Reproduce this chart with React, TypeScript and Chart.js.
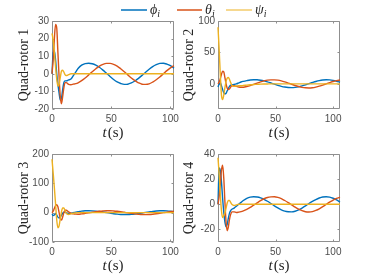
import React, { useEffect, useRef } from 'react';
import { Chart, registerables } from 'chart.js';
Chart.register(...registerables);

const W = 374;
const H = 280;

// time samples (s)
const TIME = [0, 1, 2, 3, 4, 5, 6, 7, 8, 9, 10, 11, 12, 14, 16, 18, 20, 22, 25, 28, 31, 34, 37, 40, 43, 46, 49, 52, 55, 58, 61, 64, 67, 70, 73, 76, 79, 82, 85, 88, 91, 94, 97, 100, 103, 106];
const X_TICKS = [0, 50, 100];

// Quad-rotor 1
const PHI_1 = [0, 12, 13, 8, 0, -6, -11, -15, -14, -9, -5, -4, -4, -3.5, -3, -1, 1, 3,
  4.9, 5.8, 6.0, 5.7, 4.9, 3.7, 2.1, 0.3, -1.5, -3.2, -4.6, -5.5, -6.0, -5.9, -5.2, -4.1, -2.6, -0.9, 0.9, 2.6, 4.1, 5.2, 5.9, 6.0, 5.5, 4.6, 3.2, 1.5];
const THETA_1 = [0, 8, 20, 28, 26, 12, -2, -13, -17, -13, -8, -5, -5, -6, -6.2, -5.9, -5.6, -5.1,
  -3.9, -2.4, -0.6, 1.2, 2.9, 4.4, 5.4, 5.9, 5.9, 5.4, 4.4, 2.9, 1.2, -0.6, -2.4, -3.9, -5.1, -5.9, -6.0, -5.7, -4.7, -3.4, -1.8, 0.0, 1.8, 3.4, 4.7, 5.6];
const PSI_1 = [23, 19, 12, 4, -3, -7, -6, -2, 1.5, 2, 1, -0.5, -1, -0.5, 0, 0, 0, 0,
  0, 0, 0, 0, 0, 0, 0, 0, 0, 0, 0, 0, 0, 0, 0, 0, 0, 0, 0, 0, 0, 0, 0, 0, 0, 0, 0, 0];

// Quad-rotor 2
const PHI_2 = [-5, 0, 2, -3, -9, -14, -16, -15, -11, -7, -4, -2, -1.5, -1, 0, 1.5, 3, 4,
  5.2, 6.2, 6.6, 6.5, 5.8, 4.7, 3.2, 1.4, -0.5, -2.3, -3.9, -5.1, -5.8, -6.0, -5.6, -4.7, -3.3, -1.6, 0.3, 2.1, 3.8, 5.2, 6.1, 6.5, 6.3, 5.5, 4.2, 2.6];
const THETA_2 = [0, 3, 8, 15, 20, 19, 10, 0, -7, -9, -8, -5, -3, -3, -4, -5, -5.5, -5.3,
  -4.2, -2.7, -0.8, 1.2, 3.1, 4.7, 5.9, 6.4, 6.4, 5.9, 4.8, 3.2, 1.3, -0.6, -2.6, -4.2, -5.5, -6.3, -6.5, -6.1, -5.1, -3.7, -1.9, 0.0, 1.9, 3.7, 5.1, 6.1];
const PSI_2 = [90, 55, 15, -18, -25, -18, -6, 4, 9, 10, 7, 2, -2, -4, -3.5, -3, -3, -2.5,
  -2, -1.5, -1, -0.8, -0.5, -0.3, -0.2, 0, 0, 0, 0, 0, 0, 0, 0, 0, 0, 0, 0, 0, 0, 0, 0, 0, 0, 0, 0, 0];

// Quad-rotor 3
const PHI_3 = [-5, -10, -8, -3, -8, -15, -18, -15, -8, -2, 2, 2, 0, -3, -2, 0, 2, 3,
  5.2, 6.3, 6.6, 6.2, 5.3, 4.0, 2.3, 0.4, -1.6, -3.5, -5.0, -6.0, -6.5, -6.4, -5.7, -4.5, -2.8, -1.0, 1.0, 2.8, 4.5, 5.7, 6.4, 6.5, 6.0, 5.0, 3.5, 1.6];
const THETA_3 = [0, 5, 15, 24, 27, 20, 0, -20, -25, -15, 0, 8, 8, 3, -2, -4, -5, -5.5,
  -4.3, -2.6, -0.7, 1.3, 3.2, 4.8, 5.9, 6.5, 6.5, 5.9, 4.8, 3.2, 1.3, -0.7, -2.6, -4.3, -5.6, -6.5, -6.6, -6.3, -5.2, -3.7, -2.0, 0.0, 2.0, 3.7, 5.2, 6.2];
const PSI_3 = [182, 135, 85, 30, -25, -52, -45, -20, 3, 16, 16, 7, -2, -6, -4, -2, -1, 0,
  0, 0, 0, 0, 0, 0, 0, 0, 0, 0, 0, 0, 0, 0, 0, 0, 0, 0, 0, 0, 0, 0, 0, 0, 0, 0, 0, 0];

// Quad-rotor 4
const PHI_4 = [0, 29, 27, 18, 5, -6, -14, -18, -16, -11, -7, -5, -4, -3, -1.5, 0, 1.5, 3,
  4.7, 5.7, 6.0, 5.8, 5.1, 3.9, 2.4, 0.6, -1.2, -2.9, -4.4, -5.4, -5.9, -6.0, -5.5, -4.5, -3.0, -1.3, 0.6, 2.3, 3.8, 5.0, 5.8, 6.0, 5.7, 4.8, 3.5, 1.8];
const THETA_4 = [0, 6, 16, 27, 31, 21, 2, -14, -21, -18, -12, -8, -6, -6, -6.5, -6.2, -5.8, -5.2,
  -4.0, -2.5, -0.7, 1.1, 2.9, 4.4, 5.4, 5.9, 6.0, 5.5, 4.5, 3.0, 1.3, -0.5, -2.3, -3.9, -5.1, -5.9, -6.1, -5.8, -4.9, -3.6, -1.9, -0.1, 1.7, 3.4, 4.7, 5.6];
const PSI_4 = [37, 24, 8, -5, -10.5, -9, -7, -3, 1, 3, 3, 1.5, 0, -1, -0.5, 0, 0, 0,
  0, 0, 0, 0, 0, 0, 0, 0, 0, 0, 0, 0, 0, 0, 0, 0, 0, 0, 0, 0, 0, 0, 0, 0, 0, 0, 0, 0];

const Y_TICKS_1 = [-20, -10, 0, 10, 20, 30];
const Y_TICKS_2 = [0, 50, 100];
const Y_TICKS_3 = [-100, 0, 100, 200];
const Y_TICKS_4 = [-20, 0, 20, 40];

const PANEL_TITLES = ['Quad-rotor 1', 'Quad-rotor 2', 'Quad-rotor 3', 'Quad-rotor 4'];
const SERIES_SYMBOLS = ['\u03D5', '\u03B8', '\u03C8'];
const SERIES_SUB = 'i';
const X_TITLE_VAR = 't';
const X_TITLE_UNIT = '(s)';

const COLORS = ['#0072BD', '#D95319', '#EDB120'];
const BOX_COLOR = '#8f8f8f';
const TICK_COLOR = '#4d4d4d';
const TEXT_COLOR = '#262626';
const SERIF = '"Liberation Serif", "DejaVu Serif", serif';
const SANS = '"Liberation Sans", Arial, sans-serif';

type Panel = {
  series: number[][];
  title: string;
  yticks: number[];
  ymin: number;
  ymax: number;
  xmax: number;
  box: [number, number, number, number]; // left, top, right, bottom
  titleX: number;
  legend: boolean;
};

const PANELS: Panel[] = [
  { series: [PHI_1, THETA_1, PSI_1], title: PANEL_TITLES[0], yticks: Y_TICKS_1, ymin: -20, ymax: 30, xmax: 103, box: [52, 21, 174, 109], titleX: 24, legend: true },
  { series: [PHI_2, THETA_2, PSI_2], title: PANEL_TITLES[1], yticks: Y_TICKS_2, ymin: -40, ymax: 100, xmax: 106, box: [218, 21, 340, 109], titleX: 189, legend: false },
  { series: [PHI_3, THETA_3, PSI_3], title: PANEL_TITLES[2], yticks: Y_TICKS_3, ymin: -100, ymax: 200, xmax: 103, box: [52, 154, 174, 242], titleX: 24, legend: false },
  { series: [PHI_4, THETA_4, PSI_4], title: PANEL_TITLES[3], yticks: Y_TICKS_4, ymin: -30, ymax: 40, xmax: 106, box: [218, 154, 340, 242], titleX: 189, legend: false },
];

function makeDecor(panel: Panel) {
  return {
    id: 'decor',
    beforeDatasetsDraw(chart: any) {
      const ctx: CanvasRenderingContext2D = chart.ctx;
      const a = chart.chartArea;
      const xs = chart.scales.x;
      const ys = chart.scales.y;
      ctx.save();
      ctx.strokeStyle = BOX_COLOR;
      ctx.lineWidth = 1;
      const l = Math.round(a.left) + 0.5;
      const r = Math.round(a.right) - 0.5;
      const t = Math.round(a.top) + 0.5;
      const b = Math.round(a.bottom) - 0.5;
      ctx.beginPath();
      ctx.rect(l, t, r - l, b - t);
      ctx.stroke();
      ctx.beginPath();
      for (const v of X_TICKS) {
        const px = Math.round(xs.getPixelForValue(v)) + 0.5;
        ctx.moveTo(px, b); ctx.lineTo(px, b - 2);
        ctx.moveTo(px, t); ctx.lineTo(px, t + 2);
      }
      for (const v of panel.yticks) {
        const py = Math.round(ys.getPixelForValue(v)) + 0.5;
        ctx.moveTo(l, py); ctx.lineTo(l + 2, py);
        ctx.moveTo(r, py); ctx.lineTo(r - 2, py);
      }
      ctx.stroke();
      ctx.restore();
    },
    afterDraw(chart: any) {
      const ctx: CanvasRenderingContext2D = chart.ctx;
      const a = chart.chartArea;
      ctx.save();
      // x-axis title: italic t + upright (s)
      ctx.fillStyle = TEXT_COLOR;
      ctx.textBaseline = 'middle';
      ctx.textAlign = 'left';
      const fItal = 'italic 15px ' + SERIF;
      const fUp = '15px ' + SERIF;
      ctx.font = fItal;
      const w1 = ctx.measureText(X_TITLE_VAR).width;
      ctx.font = fUp;
      const w2 = ctx.measureText(X_TITLE_UNIT).width;
      const cx = (a.left + a.right) / 2;
      const ty = a.bottom + 24;
      const x0 = cx - (w1 + w2 + 1) / 2;
      ctx.font = fItal;
      ctx.fillText(X_TITLE_VAR, x0, ty);
      ctx.font = fUp;
      ctx.fillText(X_TITLE_UNIT, x0 + w1 + 1, ty);

      if (panel.legend) {
        const items = [
          { x1: 121, x2: 147, tx: 150 },
          { x1: 177, x2: 202, tx: 205 },
          { x1: 226, x2: 252, tx: 255 },
        ];
        const ly = 10;
        items.forEach((it, i) => {
          ctx.strokeStyle = COLORS[i];
          ctx.lineWidth = i === 2 ? 1 : 1.5;
          ctx.beginPath();
          ctx.moveTo(it.x1, ly);
          ctx.lineTo(it.x2, ly);
          ctx.stroke();
          ctx.fillStyle = TEXT_COLOR;
          ctx.font = 'italic 14px ' + SERIF;
          ctx.textBaseline = 'middle';
          ctx.fillText(SERIES_SYMBOLS[i], it.tx, ly);
          const sw = ctx.measureText(SERIES_SYMBOLS[i]).width;
          ctx.font = 'italic 10px ' + SERIF;
          ctx.fillText(SERIES_SUB, it.tx + sw, ly + 4);
        });
      }
      ctx.restore();
    },
  };
}

function buildChart(canvas: HTMLCanvasElement, panel: Panel) {
  const [L, T, R, B] = panel.box;
  const padLeft = panel.titleX - 7;
  const yWidth = L - padLeft;
  const xHeight = 20;
  const datasets = panel.series.map((vals, i) => ({
    label: SERIES_SYMBOLS[i] + SERIES_SUB,
    data: TIME.map((t, k) => ({ x: t, y: vals[k] })),
    borderColor: COLORS[i],
    backgroundColor: COLORS[i],
    borderWidth: 1.4,
    pointRadius: 0,
    fill: false,
    clip: 2,
    cubicInterpolationMode: 'monotone' as const,
    order: 2 - i,
  }));
  return new Chart(canvas, {
    type: 'line',
    data: { datasets },
    plugins: [makeDecor(panel)],
    options: {
      responsive: false,
      maintainAspectRatio: false,
      animation: false,
      events: [],
      layout: { padding: { left: padLeft, top: T, right: W - R, bottom: H - B - xHeight } },
      plugins: { legend: { display: false }, tooltip: { enabled: false } },
      scales: {
        x: {
          type: 'linear',
          min: 0,
          max: panel.xmax,
          afterBuildTicks: (s: any) => { s.ticks = X_TICKS.map((v) => ({ value: v })); },
          afterFit: (s: any) => { s.height = xHeight; },
          grid: { display: false, drawTicks: false },
          border: { display: false },
          ticks: { font: { family: SANS, size: 10 }, color: TICK_COLOR, padding: 4, maxRotation: 0, autoSkip: false },
        },
        y: {
          type: 'linear',
          min: panel.ymin,
          max: panel.ymax,
          afterBuildTicks: (s: any) => { s.ticks = panel.yticks.map((v) => ({ value: v })); },
          afterFit: (s: any) => { s.width = yWidth; },
          grid: { display: false, drawTicks: false },
          border: { display: false },
          ticks: { font: { family: SANS, size: 10 }, color: TICK_COLOR, padding: 3, autoSkip: false },
          title: {
            display: true,
            text: panel.title,
            color: TEXT_COLOR,
            font: { family: SERIF, size: 14, lineHeight: 1 },
            padding: 0,
          },
        },
      },
    },
  } as any);
}

export default function App() {
  const refs = [useRef<HTMLCanvasElement>(null), useRef<HTMLCanvasElement>(null), useRef<HTMLCanvasElement>(null), useRef<HTMLCanvasElement>(null)];
  useEffect(() => {
    const charts = PANELS.map((p, i) => buildChart(refs[i].current as HTMLCanvasElement, p));
    return () => charts.forEach((c) => c.destroy());
  }, []);
  return (
    <div style={{ position: 'fixed', left: 0, top: 0, width: W, height: H, background: '#fff', overflow: 'hidden' }}>
      {refs.map((r, i) => (
        <canvas key={i} ref={r} width={W} height={H} style={{ position: 'absolute', left: 0, top: 0, width: W, height: H }} />
      ))}
    </div>
  );
}
